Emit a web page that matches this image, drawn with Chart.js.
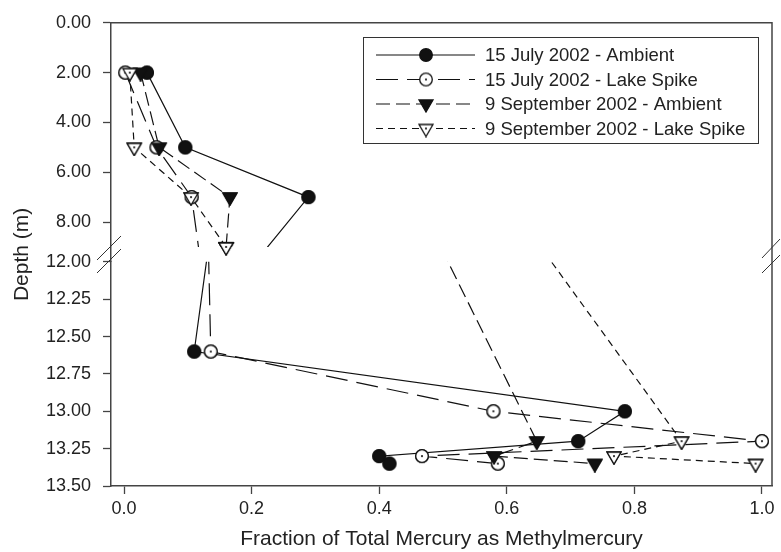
<!DOCTYPE html>
<html>
<head>
<meta charset="utf-8">
<script src="https://cdn.jsdelivr.net/npm/chart.js@4.4.1/dist/chart.umd.min.js"></script>
<style>
  html, body { margin: 0; padding: 0; background: #fff; }
</style>
</head>
<body>
<canvas id="depthChart" width="781" height="552"></canvas>
<script>
// Fraction of total mercury present as methylmercury, by depth.
// The depth axis is broken: 0-9 m on top, 12-13.5 m below.

const seriesLabels = [
    '15 July 2002 - Ambient',
    '15 July 2002 - Lake Spike',
    '9 September 2002 - Ambient',
    '9 September 2002 - Lake Spike'
]

const julyDepths = [2, 5, 7, 12.6, 13.0, 13.2, 13.3, 13.35]
const julyAmbient = [0.036, 0.096, 0.289, 0.110, 0.785, 0.712, 0.400, 0.416]
const julySpike = [0.002, 0.051, 0.106, 0.136, 0.579, 1.000, 0.467, 0.586]

const septDepths = [2, 5, 7, 9, 13.2, 13.3, 13.35]
const septAmbient = [0.026, 0.055, 0.166, 0.160, 0.647, 0.580, 0.738]
const septSpike = [0.009, 0.016, 0.105, 0.160, 0.874, 0.768, 0.990]

const xTicks = [0, 0.2, 0.4, 0.6, 0.8, 1.0]
const upperTicks = [0, 2, 4, 6, 8]
const lowerTicks = [12, 12.25, 12.5, 12.75, 13, 13.25, 13.5]

// visible depth range of each half of the broken axis
const upperRange = [0, 9]
const lowerRange = [12, 13.5]

const ink = '#111'
const axisColor = '#444'
const textColor = '#222'
const fontFamily = '"Liberation Sans", Arial, Helvetica, sans-serif'

// little canvases used as point styles (SigmaPlot like symbols)
function makeMarker(shape, filled) {
    const c = document.createElement('canvas')
    c.width = 18
    c.height = 18
    const g = c.getContext('2d')
    g.translate(9, 9)
    g.lineWidth = 1.3
    g.strokeStyle = ink
    g.fillStyle = filled ? ink : '#fff'
    g.beginPath()
    if (shape === 'circle') {
        g.arc(0, 0, 6.3, 0, Math.PI * 2)
    } else {
        g.moveTo(-7, -4)
        g.lineTo(7, -4)
        g.lineTo(0, 8)
        g.closePath()
    }
    g.fill()
    g.stroke()
    if (!filled) {
        g.fillStyle = ink
        g.beginPath()
        g.arc(0, 0, 1.1, 0, Math.PI * 2)
        g.fill()
    }
    return c
}

const looks = [
    {dash: [], marker: makeMarker('circle', true)},
    {dash: [22, 9], marker: makeMarker('circle', false)},
    {dash: [14, 6], marker: makeMarker('triangle', true)},
    {dash: [7, 5], marker: makeMarker('triangle', false)}
]

const seriesData = [
    [julyDepths, julyAmbient],
    [julyDepths, julySpike],
    [septDepths, septAmbient],
    [septDepths, septSpike]
]

// every series is drawn twice, once per half of the axis, each one clipped
// to its own half, the way SigmaPlot draws lines across an axis break
function panelDataset(i, axisId, range) {
    const [depths, values] = seriesData[i]
    return {
        label: seriesLabels[i],
        yAxisID: axisId,
        range: range,
        data: depths.map((d, k) => ({x: values[k], y: d})),
        showLine: true,
        borderColor: ink,
        borderWidth: 1.2,
        borderDash: looks[i].dash,
        pointStyle: looks[i].marker,
        pointRadius: (ctx) => {
            const d = ctx.raw ? ctx.raw.y : 0
            return (d >= range[0] && d <= range[1]) ? 7 : 0
        },
        pointHoverRadius: 0,
        clip: false,
        order: 10 - i
    }
}

const datasets = []
seriesLabels.forEach((_, i) => {
    datasets.push(panelDataset(i, 'yUpper', upperRange))
    datasets.push(panelDataset(i, 'yLower', lowerRange))
})

const tickFont = {family: fontFamily, size: 18}

// clip each dataset to the visible part of its own axis
const panelClip = {
    id: 'panelClip',
    beforeDatasetDraw(chart, args) {
        const ds = chart.data.datasets[args.index]
        const scale = chart.scales[ds.yAxisID]
        const a = chart.chartArea
        const p0 = scale.getPixelForValue(ds.range[0])
        const p1 = scale.getPixelForValue(ds.range[1])
        chart.ctx.save()
        chart.ctx.beginPath()
        chart.ctx.rect(a.left, Math.min(p0, p1), a.right - a.left, Math.abs(p1 - p0))
        chart.ctx.clip()
    },
    afterDatasetDraw(chart) {
        chart.ctx.restore()
    }
}

// symbols sit on top of the lines and are not cut by the axis break
const markersOnTop = {
    id: 'markersOnTop',
    afterDatasetsDraw(chart) {
        const all = {left: 0, top: 0, right: chart.width, bottom: chart.height}
        chart.data.datasets.forEach((ds, i) => {
            const meta = chart.getDatasetMeta(i)
            meta.data.forEach(pt => pt.draw(chart.ctx, all))
        })
    }
}

// frame, break marks, y title and the boxed legend
const decorations = {
    id: 'decorations',
    afterDraw(chart) {
        const ctx = chart.ctx
        const a = chart.chartArea
        ctx.save()

        ctx.strokeStyle = axisColor
        ctx.lineWidth = 1.5
        ctx.beginPath()
        ctx.moveTo(a.left, a.top)
        ctx.lineTo(a.right, a.top)
        ctx.lineTo(a.right, a.bottom)
        ctx.stroke()

        // the // marks on both vertical axes
        ctx.strokeStyle = '#333'
        ctx.lineWidth = 1
        const slash = (x0, y0, x1, y1) => {
            ctx.beginPath()
            ctx.moveTo(x0, y0)
            ctx.lineTo(x1, y1)
            ctx.stroke()
        }
        slash(97, 260, 121, 236)
        slash(97, 273, 121, 249)
        slash(762, 258, 780, 239)
        slash(762, 273, 780, 255)

        ctx.fillStyle = textColor
        ctx.font = '21px ' + fontFamily
        ctx.textAlign = 'center'
        ctx.textBaseline = 'middle'
        ctx.translate(22, (a.top + a.bottom) / 2)
        ctx.rotate(-Math.PI / 2)
        ctx.fillText('Depth (m)', 0, 0)
        ctx.setTransform(1, 0, 0, 1, 0, 0)

        // legend
        ctx.fillStyle = '#fff'
        ctx.fillRect(363.5, 37.5, 395, 106)
        ctx.strokeStyle = '#333'
        ctx.lineWidth = 1
        ctx.strokeRect(363.5, 37.5, 395, 106)
        seriesLabels.forEach((label, i) => {
            const y = 55 + i * 24.5
            ctx.strokeStyle = ink
            ctx.lineWidth = 1.2
            ctx.setLineDash(looks[i].dash)
            ctx.beginPath()
            ctx.moveTo(376, y)
            ctx.lineTo(475, y)
            ctx.stroke()
            ctx.setLineDash([])
            const m = looks[i].marker
            ctx.drawImage(m, 426 - m.width / 2, y - m.height / 2)
            ctx.fillStyle = textColor
            ctx.font = '18.5px ' + fontFamily
            ctx.textAlign = 'left'
            ctx.textBaseline = 'middle'
            ctx.fillText(label, 485, y + 1)
        })
        ctx.restore()
    }
}

const gridOpts = {drawOnChartArea: false, tickLength: 8, color: axisColor, tickWidth: 1.3}
const borderOpts = {color: axisColor, width: 1.5}

const config = {
    type: 'scatter',
    data: {datasets: datasets},
    options: {
        responsive: false,
        animation: false,
        events: [],
        layout: {padding: {top: 21, right: 9, left: 0, bottom: 0}},
        plugins: {
            legend: {display: false},
            tooltip: {enabled: false}
        },
        scales: {
            x: {
                type: 'linear',
                min: -0.0204,
                max: 1.0157,
                afterBuildTicks: (s) => { s.ticks = xTicks.map(v => ({value: v})) },
                afterFit: (s) => { s.height = 66 },
                ticks: {callback: (v) => Number(v).toFixed(1), font: tickFont, color: textColor, padding: 4, maxRotation: 0, autoSkip: false},
                grid: gridOpts,
                border: borderOpts,
                title: {
                    display: true,
                    text: 'Fraction of Total Mercury as Methylmercury',
                    font: {family: fontFamily, size: 21},
                    color: textColor,
                    padding: {top: 0, bottom: 0}
                }
            },
            yUpper: {
                type: 'linear',
                position: 'left',
                stack: 'depth',
                stackWeight: 240,
                weight: 1,
                reverse: true,
                min: 0,
                max: 9.6,
                afterBuildTicks: (s) => { s.ticks = upperTicks.map(v => ({value: v})) },
                afterFit: (s) => { s.width = 111 },
                ticks: {callback: (v) => Number(v).toFixed(2), font: tickFont, color: textColor, padding: 12, autoSkip: false},
                grid: gridOpts,
                border: borderOpts
            },
            yLower: {
                type: 'linear',
                position: 'left',
                stack: 'depth',
                stackWeight: 225,
                weight: 0,
                reverse: true,
                min: 12,
                max: 13.5,
                afterBuildTicks: (s) => { s.ticks = lowerTicks.map(v => ({value: v})) },
                afterFit: (s) => { s.width = 111 },
                ticks: {callback: (v) => Number(v).toFixed(2), font: tickFont, color: textColor, padding: 12, autoSkip: false},
                grid: gridOpts,
                border: borderOpts
            }
        }
    },
    plugins: [panelClip, markersOnTop, decorations]
}

new Chart(document.getElementById('depthChart'), config)
</script>
</body>
</html>
